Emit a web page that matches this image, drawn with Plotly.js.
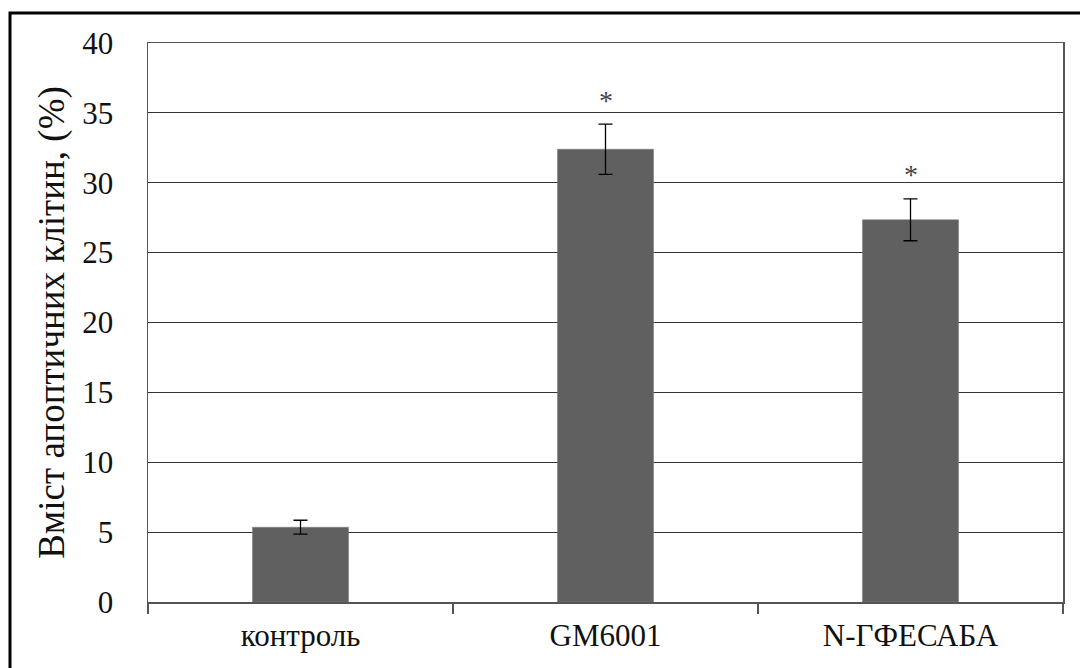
<!DOCTYPE html>
<html>
<head>
<meta charset="utf-8">
<script src="https://cdn.plot.ly/plotly-3.0.1.min.js"></script>
</head>
<body style="margin:0;padding:0;background:#fff;">
<div id="chart" style="width:1080px;height:668px;"></div>
<script>
var categories = ['контроль', 'GM6001', 'N-ГФЕСАБА'];
var values = [5.35, 32.4, 27.35];
var errors = [0.5, 1.8, 1.5];
var marks = ['', '*', '*'];
var yTicks = [0, 5, 10, 15, 20, 25, 30, 35, 40];

var trace = {
  type: 'bar',
  x: categories,
  y: values,
  marker: {color: '#606060', line: {color: '#7a7a7a', width: 0.5}},
  error_y: {type: 'data', array: errors, visible: true, color: '#000', thickness: 1.3, width: 7},
  hoverinfo: 'none'
};

var annotations = [];
for (var i = 0; i < categories.length; i++) {
  if (!marks[i]) continue;
  annotations.push({
    x: categories[i], y: values[i] + errors[i], xref: 'x', yref: 'y',
    text: marks[i], showarrow: false, yanchor: 'middle', yshift: 24,
    font: {family: 'Liberation Serif', size: 28, color: '#444'}
  });
}

var layout = {
  width: 1080, height: 668,
  margin: {l: 148, r: 17, t: 43, b: 66},
  paper_bgcolor: '#fff', plot_bgcolor: '#fff',
  showlegend: false,
  bargap: 0.685,
  font: {family: 'Liberation Serif', size: 31, color: '#111'},
  xaxis: {
    type: 'category',
    tickson: 'boundaries',
    ticks: 'outside', ticklen: 10, tickcolor: '#555', tickwidth: 1.3,
    showline: true, linecolor: '#555', linewidth: 1.5, mirror: true,
    showgrid: false,
    ticklabelstandoff: 5
  },
  yaxis: {
    range: [0, 40],
    tickvals: yTicks,
    ticktext: yTicks.map(String),
    ticks: '',
    showline: true, linecolor: '#555', linewidth: 1.5, mirror: true,
    showgrid: true, gridcolor: '#333', gridwidth: 1.2,
    zeroline: false,
    ticklabelstandoff: 27,
    title: {text: 'Вміст апоптичних клітин, (%)', standoff: 6}
  },
  annotations: annotations,
  shapes: [{
    type: 'rect', xref: 'paper', yref: 'paper',
    x0: (10 - 148) / 915, x1: (1090 - 148) / 915,
    y0: (602 - 690) / 559, y1: (602 - 13) / 559,
    line: {color: '#000', width: 3}, fillcolor: 'rgba(0,0,0,0)', layer: 'above'
  }]
};

Plotly.newPlot('chart', [trace], layout, {staticPlot: true, displayModeBar: false});
</script>
</body>
</html>
